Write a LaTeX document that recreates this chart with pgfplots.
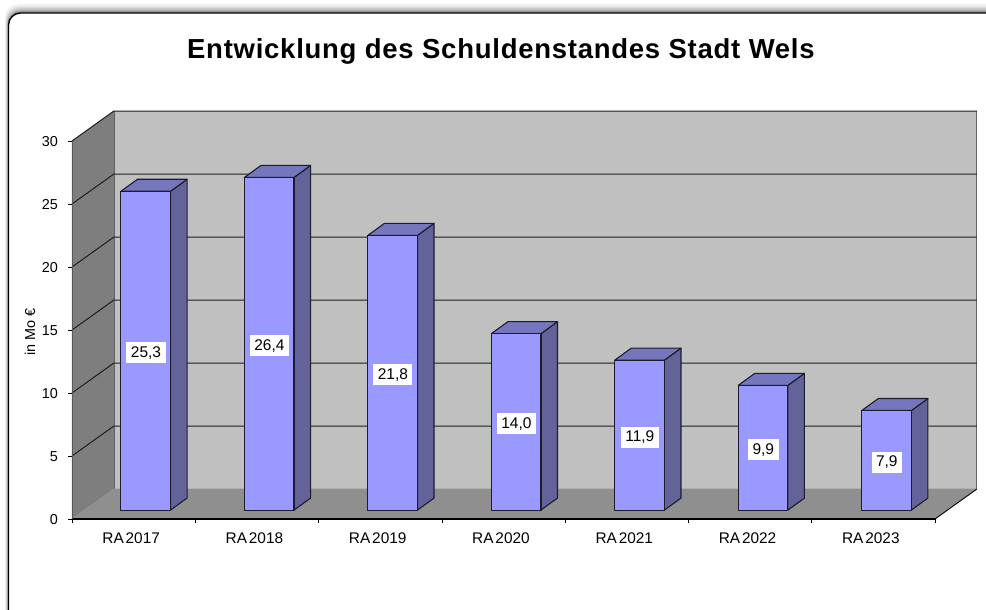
\documentclass[border=0pt]{standalone}
\usepackage{fontspec}
\setmainfont{Liberation Sans}
\usepackage{pgfplots}
\usepackage{pgfplotstable}
\pgfplotsset{compat=1.18}

\definecolor{barfront}{HTML}{9999FF}
\definecolor{barside}{HTML}{636399}
\definecolor{bartop}{HTML}{7676BC}
\definecolor{baredge}{HTML}{1C1C30}
\definecolor{backwall}{HTML}{C0C0C0}
\definecolor{sidewall}{HTML}{7E7E7E}
\definecolor{floorcol}{HTML}{8F8F8F}
\definecolor{gridcol}{HTML}{1E1E1E}

\pgfplotstableread{
i v label
0 25.3 25,3
1 26.4 26,4
2 21.8 21,8
3 14.0 14,0
4 11.9 11,9
5 9.9 9,9
6 7.9 7,9
}\debt

% one bar: #1 = position, #2 = value
\newcommand{\threedbar}[2]{%
  \pgfmathsetmacro\xa{#1*1.0015+0.397}%
  \pgfmathsetmacro\xb{#1*1.0015+0.7995}%
  \pgfmathsetmacro\xc{#1*1.0015+0.9335}%
  \pgfmathsetmacro\xd{#1*1.0015+0.531}%
  \pgfmathsetmacro\yt{0.71+#2}%
  \pgfmathsetmacro\ytt{0.71+#2+0.95}%
  \edef\tmp{\noexpand\addplot[barface,fill=barside] coordinates {(\xb,0.71)(\xc,1.66)(\xc,\ytt)(\xb,\yt)} --cycle;
    \noexpand\addplot[barface,fill=bartop] coordinates {(\xa,\yt)(\xb,\yt)(\xc,\ytt)(\xd,\ytt)} --cycle;
    \noexpand\addplot[barface,fill=barfront] coordinates {(\xa,0.71)(\xb,0.71)(\xb,\yt)(\xa,\yt)} --cycle;}%
  \tmp
}

\begin{document}
\begin{tikzpicture}
\path[use as bounding box,clip] (-72pt,-91pt) rectangle (914pt,519pt);

% frame with soft shadow
\foreach \k/\g in {6/96,5/92,4/86,3/78,2/68,1/56}{
  \fill[black!\the\numexpr100-\g\relax,rounded corners=13pt]
    ({-63.5-0.6*\k*1pt},{506pt+1.5*\k*1pt}) rectangle (960pt,-120pt);
}
\draw[black,line width=1.4pt,fill=white,rounded corners=12pt] (-63.5pt,506pt) rectangle (960pt,-120pt);

\begin{axis}[
  at={(0pt,0pt)},anchor=south west,
  scale only axis,width=863pt,height=378pt,
  xmin=0,xmax=7,ymin=0,ymax=30,
  clip=false,axis on top,
  axis lines=left,
  axis line style={-},
  x axis line style={line width=1.1pt},
  y axis line style={draw=gray!70!black,line width=0.6pt},
  tick align=outside,
  major tick length=4pt,minor tick length=4pt,
  tick style={black,line width=0.7pt},
  ytick={0,5,...,30},
  xtick={0.5,1.5,...,6.5},
  xticklabels={RA\hspace{0.12em}2017,RA\hspace{0.12em}2018,RA\hspace{0.12em}2019,RA\hspace{0.12em}2020,RA\hspace{0.12em}2021,RA\hspace{0.12em}2022,RA\hspace{0.12em}2023},
  major x tick style={draw=none},
  minor xtick={0,1,...,7},
  tick label style={font=\fontsize{14.4}{14}\selectfont},
  /pgf/number format/assume math mode=true,
  xticklabel style={yshift=-6pt,xshift=-2.5pt,font=\fontsize{15.4}{15}\selectfont},
  yticklabel style={xshift=-6.5pt,yshift=-1pt},
  ylabel={in Mo €},
  ylabel style={at={(axis description cs:-0.0487,0.495)},anchor=center,font=\fontsize{14.4}{15}\selectfont},
  title={Entwicklung des Schuldenstandes Stadt Wels},
  title style={at={(axis description cs:0.497,1.246)},anchor=center,yshift=-9pt,font=\fontsize{27.5}{29}\selectfont\bfseries\addfontfeatures{LetterSpace=2.7}},
  barface/.style={draw=baredge,line width=1.1pt,line join=round},
  wallline/.style={draw=gridcol,line width=1pt},
]
% walls and floor
\addplot[draw=none,fill=backwall] coordinates {(0.34,2.38)(7.34,2.38)(7.34,32.38)(0.34,32.38)} --cycle;
\addplot[draw=none,fill=sidewall] coordinates {(0,0)(0.34,2.38)(0.34,32.38)(0,30)} --cycle;
\addplot[draw=none,fill=floorcol] coordinates {(0,0)(7,0)(7.34,2.38)(0.34,2.38)} --cycle;
\addplot[draw=gray!80!black,line width=1pt] coordinates {(7.34,2.38)(7.34,32.38)};
\addplot[draw=gray!75!black,line width=0.7pt] coordinates {(0.34,2.38)(0.34,32.38)};
\addplot[draw=gray!85,line width=0.7pt] coordinates {(0,0)(0.34,2.38)(7.34,2.38)};
\addplot[draw=black,line width=0.9pt] coordinates {(7,0)(7.34,2.38)};
% grid lines on side and back wall
\addplot[wallline] coordinates {(0,30)(0.34,32.38)(7.34,32.38)};
\addplot[wallline] coordinates {(0,25)(0.34,27.38)(7.34,27.38)};
\addplot[wallline] coordinates {(0,20)(0.34,22.38)(7.34,22.38)};
\addplot[wallline] coordinates {(0,15)(0.34,17.38)(7.34,17.38)};
\addplot[wallline] coordinates {(0,10)(0.34,12.38)(7.34,12.38)};
\addplot[wallline] coordinates {(0,5)(0.34,7.38)(7.34,7.38)};
% bars
\threedbar{0}{25.3}
\threedbar{1}{26.4}
\threedbar{2}{21.8}
\threedbar{3}{14.0}
\threedbar{4}{11.9}
\threedbar{5}{9.9}
\threedbar{6}{7.9}
% value labels in the middle of the bars
\addplot[only marks,mark=none,
  nodes near coords,
  point meta=explicit symbolic,
  every node near coord/.style={anchor=center,fill=white,inner xsep=4.5pt,inner ysep=0pt,
    minimum height=21pt,yshift=-2pt,
    font=\fontsize{15.5}{15}\selectfont,text=black},
] table[x expr=\thisrow{i}*1.0015+0.6,y expr=0.71+\thisrow{v}/2,meta=label] {\debt};
\end{axis}
\end{tikzpicture}
\end{document}
